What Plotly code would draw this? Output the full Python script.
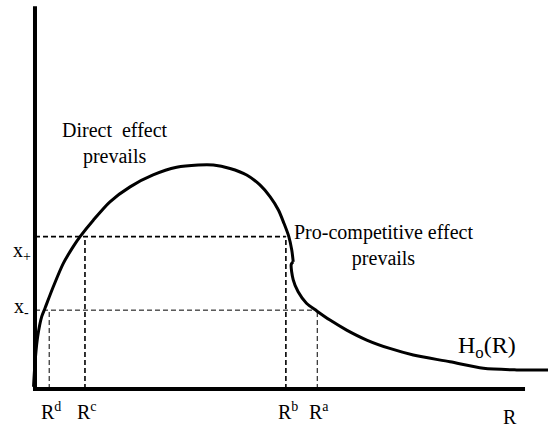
import plotly.graph_objects as go

# Curve H_o(R)
curve_R = [-0.03, 0.01, 0.055, 0.137, 0.204, 0.373, 0.578, 0.78, 0.92, 1.19, 1.53, 1.94, 2.41, 2.89,
           3.33, 3.64, 3.98, 4.32, 4.59, 4.80, 4.97, 5.08, 5.18, 5.24, 5.27,
           5.23, 5.27, 5.37, 5.54, 5.75, 6.02, 6.36, 6.77, 7.24, 7.72, 8.47, 9.15, 9.83, 10.47]
curve_H = [0.06, 0.84, 1.37, 1.89, 2.11, 2.67, 3.28, 3.72, 3.98, 4.41, 4.89, 5.28, 5.59, 5.79,
           5.85, 5.85, 5.76, 5.59, 5.33, 5.02, 4.67, 4.33, 3.98, 3.63, 3.32,
           3.26, 2.85, 2.54, 2.24, 2.04, 1.80, 1.54, 1.28, 1.06, 0.89, 0.71, 0.54, 0.50, 0.50]
KINK = 25  # index where the curve has its small notch

# Thresholds
R_names = ["R<sup>d</sup>", "R<sup>c</sup>", "R<sup>b</sup>", "R<sup>a</sup>"]
R_values = [0.29, 1.02, 5.12, 5.76]
x_names = ["x<sub>+</sub>", "x<sub>-</sub>"]
x_levels = [3.98, 2.06]

FONT = "Times New Roman, Liberation Serif, serif"

fig = go.Figure()

# axes
fig.add_trace(go.Scatter(x=[0, 0, 10], y=[10, 0, 0], mode="lines",
                         line=dict(color="black", width=4), hoverinfo="skip"))

# dashed guides: x+ (thick) to R^b and R^c ; x- (thin) to R^a and R^d
thick = dict(color="black", width=1.6, dash="5px,3px")
thin = dict(color="black", width=1, dash="5px,3px")
fig.add_trace(go.Scatter(x=[0, R_values[2]], y=[x_levels[0]] * 2, mode="lines", line=thick))
fig.add_trace(go.Scatter(x=[R_values[1]] * 2, y=[0, x_levels[0]], mode="lines", line=thick))
fig.add_trace(go.Scatter(x=[R_values[2]] * 2, y=[0, x_levels[0]], mode="lines", line=thick))
fig.add_trace(go.Scatter(x=[0, R_values[3]], y=[x_levels[1]] * 2, mode="lines", line=thin))
fig.add_trace(go.Scatter(x=[R_values[0]] * 2, y=[0, x_levels[1]], mode="lines", line=thin))
fig.add_trace(go.Scatter(x=[R_values[3]] * 2, y=[0, x_levels[1]], mode="lines", line=thin))

# curve (two pieces meeting at the notch)
fig.add_trace(go.Scatter(x=curve_R[:KINK], y=curve_H[:KINK], mode="lines", line_shape="spline",
                         line=dict(color="black", width=3, smoothing=0.8), hoverinfo="skip"))
fig.add_trace(go.Scatter(x=curve_R[KINK - 1:], y=curve_H[KINK - 1:], mode="lines", line_shape="spline",
                         line=dict(color="black", width=3, smoothing=0.8), hoverinfo="skip"))

anns = []
for name, v in zip(R_names, R_values):
    anns.append(dict(x=v, y=-0.58, text=name, showarrow=False, yanchor="middle", xanchor="center",
                     xshift=2, font=dict(size=20, family=FONT, color="black")))
anns.append(dict(x=-0.265, y=3.6, text=x_names[0], showarrow=False, xanchor="center",
                 yanchor="middle", font=dict(size=20, family=FONT, color="black")))
anns.append(dict(x=-0.28, y=2.12, text=x_names[1], showarrow=False, xanchor="center",
                 yanchor="middle", font=dict(size=20, family=FONT, color="black")))
anns += [
    dict(x=1.63, y=6.42, text="Direct  effect<br>prevails", showarrow=False,
         font=dict(size=20, family=FONT, color="black"), align="center"),
    dict(x=7.12, y=3.76, text="Pro-competitive effect<br>prevails", showarrow=False,
         font=dict(size=20, family=FONT, color="black"), align="center"),
    dict(x=9.22, y=1.1, text="H<sub>o</sub>(R)", showarrow=False,
         font=dict(size=24, family=FONT, color="black")),
    dict(x=9.69, y=-0.73, text="R", showarrow=False,
         font=dict(size=20, family=FONT, color="black")),
]

fig.update_layout(
    width=548, height=430, margin=dict(l=0, r=0, t=0, b=0),
    plot_bgcolor="white", paper_bgcolor="white", showlegend=False,
    xaxis=dict(range=[-0.714, 10.469], visible=False),
    yaxis=dict(range=[-1.07, 10.16], visible=False),
    annotations=anns,
)
fig.write_html("out.html", config={"displayModeBar": False},
               post_script="document.body.style.margin='0';")
